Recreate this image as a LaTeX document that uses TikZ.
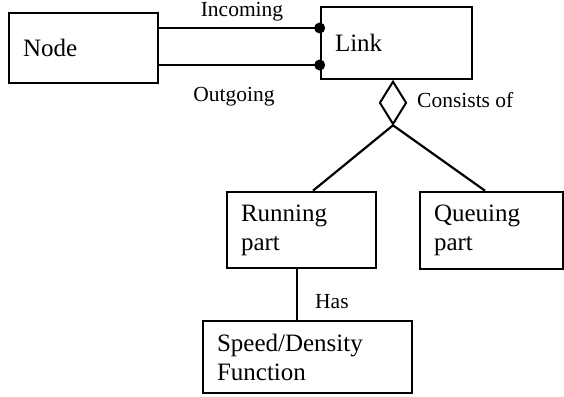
\documentclass[tikz,border=0pt]{standalone}
\usepackage{fontspec}
\setmainfont{Liberation Serif}
\usetikzlibrary{shapes.geometric}
\begin{document}
\begin{tikzpicture}[x=1pt,y=1pt,
  box/.style={draw, line width=2.6pt, rectangle, inner xsep=14pt, inner ysep=0pt, align=left,
    font=\fontsize{25}{29}\selectfont},
  conn/.style={line width=2.2pt},
  lbl/.style={font=\fontsize{21.5}{25}\selectfont, inner sep=0pt},
  dot/.style={circle, fill=black, inner sep=0pt, minimum size=11pt}]
\useasboundingbox (0,0) rectangle (564,-396);
\node[box, text width=121pt, minimum height=70pt] (node) at (83.5,-48) {Node};
\node[box, text width=123pt, minimum height=72pt] (link) at (396.5,-43) {Link};
\node[box, text width=121pt, minimum height=76pt] (run) at (301.5,-230) {Running\\part};
\node[box, text width=115pt, minimum height=77pt] (que) at (491.5,-230.5) {Queuing\\part};
\node[box, text width=181pt, minimum height=72pt] (spd) at (307.5,-357) {Speed/Density\\Function};
\node[diamond, draw, line width=2pt, minimum width=27pt, minimum height=43pt, inner sep=0pt,
  anchor=north] (dia) at ([xshift=-3.5pt]link.south) {};
\coordinate (inc) at ([yshift=15pt]link.west);
\coordinate (out) at ([yshift=-22pt]link.west);
\draw[conn] (node.east |- inc) -- (inc);
\draw[conn] (node.east |- out) -- (out);
\node[dot] (d1) at (inc) {};
\node[dot] (d2) at (out) {};
\draw[conn] (dia.south) -- ([xshift=11.5pt]run.north);
\draw[conn] (dia.south) -- ([xshift=-6.5pt]que.north);
\draw[conn] ([xshift=-4.5pt]run.south) -- ([xshift=-4.5pt]run.south |- spd.north);
\node[lbl, anchor=base] (linc) at (242,-17) {Incoming};
\node[lbl, anchor=base] (lout) at (234,-101) {Outgoing};
\node[lbl, anchor=base west] (lcon) at (417,-107) {Consists of};
\node[lbl, anchor=base west] (lhas) at (315,-308) {Has};
\end{tikzpicture}
\end{document}
